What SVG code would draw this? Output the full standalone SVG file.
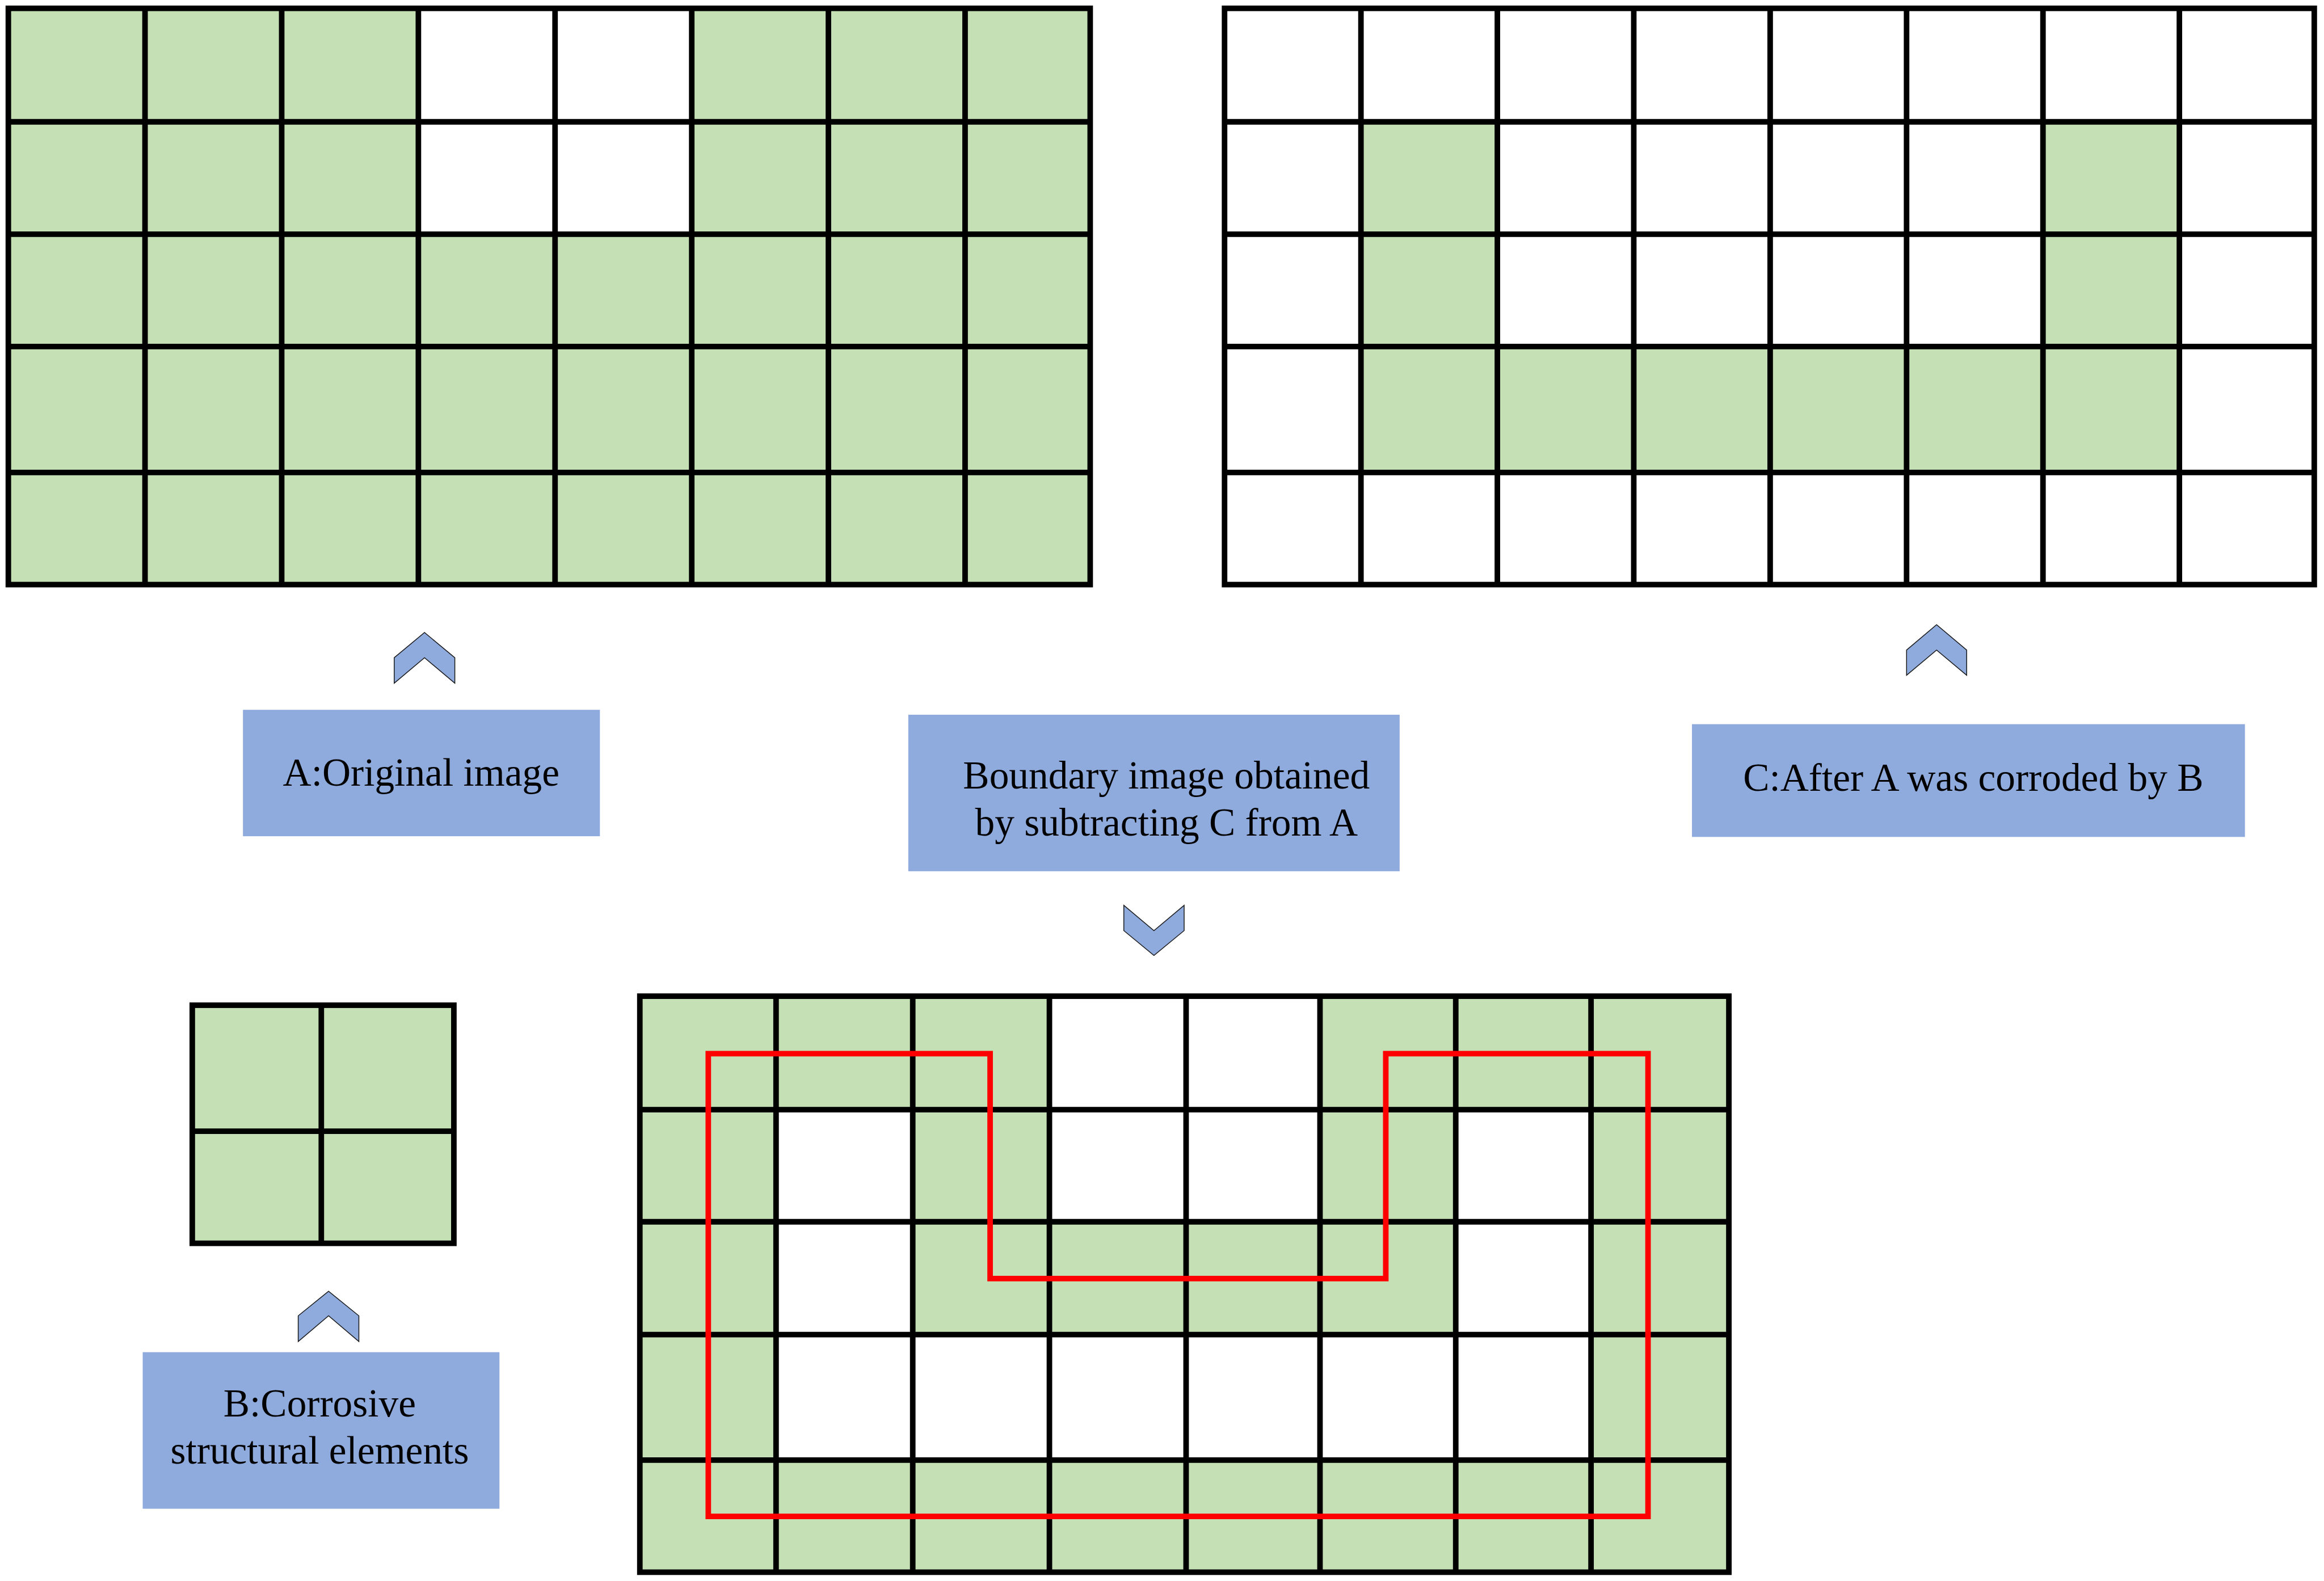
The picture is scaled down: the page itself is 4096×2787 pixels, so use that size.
<svg xmlns="http://www.w3.org/2000/svg" width="4096" height="2787" viewBox="0 0 4096 2787">
<style>
.g{fill:#c5e0b4}
.w{fill:#ffffff}
.ln{fill:none;stroke:#000;stroke-width:9.8}
.box{fill:#8faadc}
.chev{fill:#8faadc;stroke:#1a1a1a;stroke-width:1.5;stroke-linejoin:miter}
.red{fill:none;stroke:#ff0000;stroke-width:9.8;stroke-linejoin:miter}
.t{font-family:"Liberation Serif","Times New Roman",serif;font-size:69.4px;fill:#000;text-anchor:middle}
</style>
<rect x="0" y="0" width="4096" height="2787" fill="#ffffff"/>

<g id="grid-A">
<rect class="g" x="14.7" y="14.7" width="1906.73" height="1015.83"/>
<rect class="w" x="737.38" y="14.7" width="481.78" height="398.08"/>
<rect class="ln" x="14.7" y="14.7" width="1906.73" height="1015.83"/>
<path class="ln" d="M255.59 14.7V1030.53M496.48 14.7V1030.53M737.38 14.7V1030.53M978.27 14.7V1030.53M1219.16 14.7V1030.53M1460.06 14.7V1030.53M1700.95 14.7V1030.53M14.7 214.76H1921.43M14.7 412.78H1921.43M14.7 610.81H1921.43M14.7 832.92H1921.43"/>
</g>

<g id="grid-C">
<rect class="w" x="2158.24" y="14.7" width="1920.61" height="1015.83"/>
<rect class="g" x="2398.65" y="214.76" width="240.41" height="396.05"/>
<rect class="g" x="3600.7" y="214.76" width="240.42" height="396.05"/>
<rect class="g" x="2398.65" y="610.81" width="1442.47" height="222.11"/>
<rect class="ln" x="2158.24" y="14.7" width="1920.61" height="1015.83"/>
<path class="ln" d="M2398.65 14.7V1030.53M2639.06 14.7V1030.53M2879.47 14.7V1030.53M3119.88 14.7V1030.53M3360.29 14.7V1030.53M3600.7 14.7V1030.53M3841.12 14.7V1030.53M2158.24 214.76H4078.85M2158.24 412.78H4078.85M2158.24 610.81H4078.85M2158.24 832.92H4078.85"/>
</g>

<g id="grid-B">
<rect class="g" x="338.88" y="1772.01" width="461.05" height="419.71"/>
<rect class="ln" x="338.88" y="1772.01" width="461.05" height="419.71"/>
<path class="ln" d="M566.3 1772.01V2191.72M338.88 1994.11H799.93"/>
</g>

<g id="grid-D">
<rect class="g" x="1127.71" y="1756.07" width="1919.39" height="1015.43"/>
<rect class="w" x="1849.57" y="1756.07" width="476.89" height="397.69"/>
<rect class="w" x="1367.78" y="1956.14" width="240.9" height="617.75"/>
<rect class="w" x="2565.72" y="1956.14" width="238.44" height="617.75"/>
<rect class="w" x="1608.68" y="2352.59" width="957.04" height="221.3"/>
<rect class="ln" x="1127.71" y="1756.07" width="1919.39" height="1015.43"/>
<path class="ln" d="M1367.78 1756.07V2771.5M1608.68 1756.07V2771.5M1849.57 1756.07V2771.5M2090.46 1756.07V2771.5M2326.46 1756.07V2771.5M2565.72 1756.07V2771.5M2804.16 1756.07V2771.5M1127.71 1956.14H3047.1M1127.71 2153.76H3047.1M1127.71 2352.59H3047.1M1127.71 2573.89H3047.1"/>
<path class="red" d="M1248.33 1857.33H1745.05V2253.78H2442.41V1857.33H2904.6V2673.1H1248.33Z"/>
</g>

<g id="label-A">
<rect class="box" x="428.22" y="1251.25" width="629.1" height="222.85"/>
<text class="t" x="742.3" y="1384.9">A:Original image</text>
</g>

<g id="label-C">
<rect class="box" x="2982.05" y="1276.57" width="974.6" height="198.76"/>
<text class="t" x="3477.8" y="1394.4">C:After A was corroded by B</text>
</g>

<g id="label-boundary">
<rect class="box" x="1600.84" y="1259.91" width="865.99" height="275.93"/>
<text class="t" x="2055.8" y="1389.6">Boundary image obtained</text>
<text class="t" x="2055.8" y="1473.3">by subtracting C from A</text>
</g>

<g id="label-B">
<rect class="box" x="251.51" y="2383.62" width="628.77" height="276.01"/>
<text class="t" x="563.4" y="2496.9">B:Corrosive</text>
<text class="t" x="563.4" y="2580.2">structural elements</text>
</g>

<g id="connectors">
<polygon class="chev" points="694.8,1159.4 748.2,1115 801.6,1159.4 801.6,1204.4 748.2,1159.4 694.8,1204.4"/>
<polygon class="chev" points="3360.3,1145.9 3413.2,1101.3 3466.2,1145.9 3466.2,1190.3 3413.2,1145.9 3360.3,1190.3"/>
<polygon class="chev" points="1980.7,1595.9 2033.8,1640.5 2087,1595.9 2087,1640.5 2033.8,1684.3 1980.7,1640.5"/>
<polygon class="chev" points="525.6,2319.5 579.1,2276.2 632.5,2319.5 632.5,2364.8 579.1,2319.5 525.6,2364.8"/>
</g>
</svg>
